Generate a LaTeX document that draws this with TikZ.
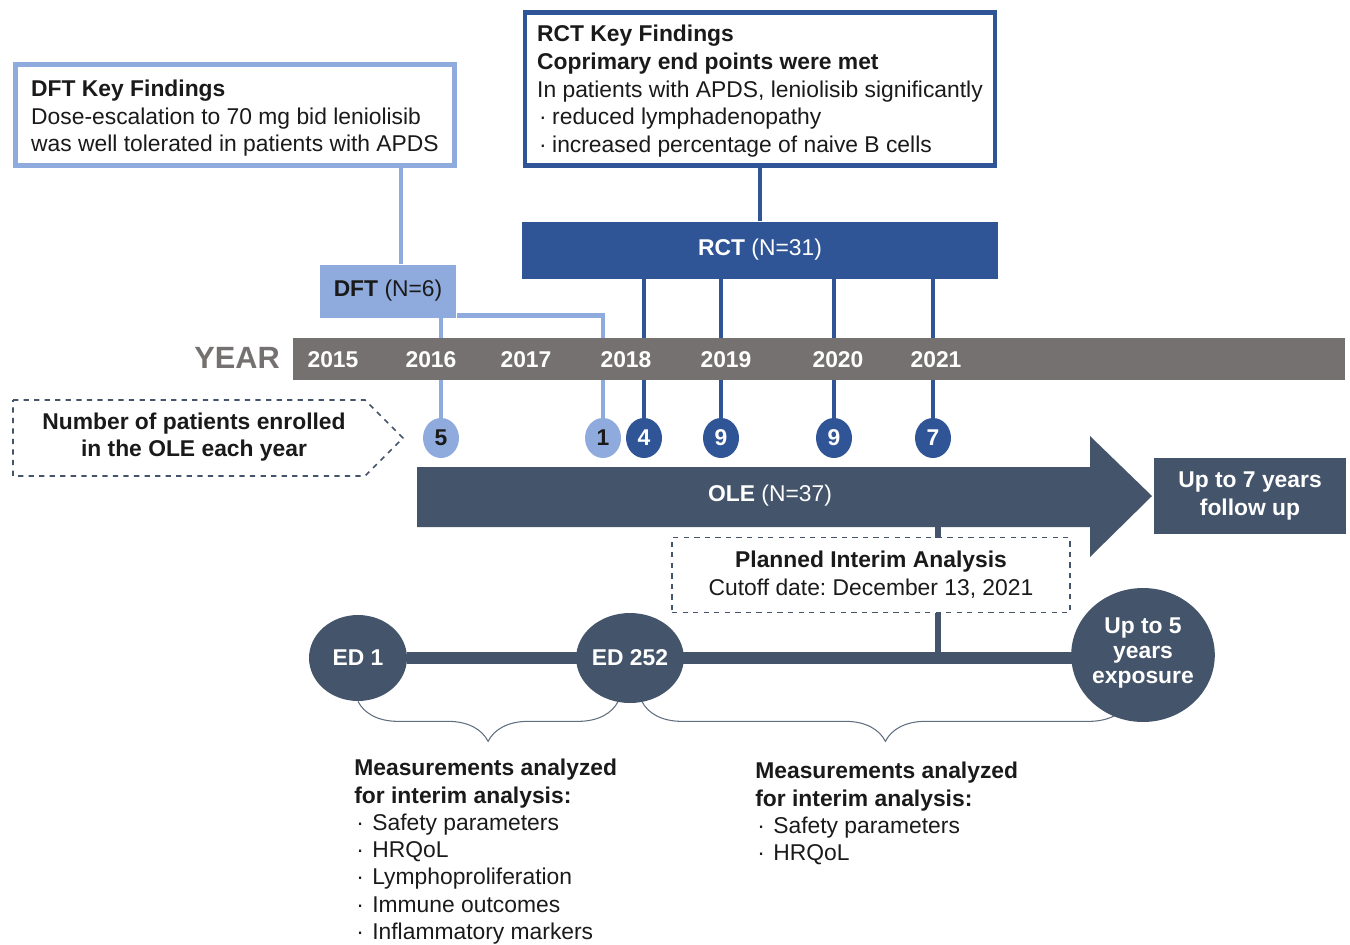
\documentclass[tikz,border=0pt]{standalone}
\usepackage{fontspec}
\setmainfont{Liberation Sans}
\usetikzlibrary{shapes.geometric, positioning, calc, backgrounds, decorations.pathreplacing}
\definecolor{dftblue}{HTML}{8FAADC}
\definecolor{rctblue}{HTML}{2F5597}
\definecolor{yeargray}{HTML}{767171}
\definecolor{oleslate}{HTML}{44546A}
\definecolor{ink}{HTML}{1A1A1A}
\newcommand{\bul}[1]{\makebox[#1][l]{\hspace{0.04cm}·}}
\frenchspacing
\tikzset{
    keybox/.style = {draw, line width=2.7pt, fill=white, align=left, inner sep=0pt, text=ink},
    studybox/.style = {rectangle, inner sep=0pt, align=center},
    yearlbl/.style = {text=white, font=\bfseries},
    enrolldot/.style = {ellipse, inner sep=0pt, minimum width=0.72cm, minimum height=0.8cm, font=\bfseries},
    eddot/.style = {ellipse, fill=oleslate, inner sep=0pt, text=white, font=\bfseries, align=center},
    link/.style = {line width=2.8pt},
    dashbox/.style = {draw=oleslate, dashed, line width=0.9pt, fill=white},
    brace/.style = {decorate, decoration={brace, amplitude=0.8cm, mirror}, draw=oleslate!85, line width=0.6pt}
}

\begin{document}
\fontsize{13}{15.8}\selectfont
\begin{tikzpicture}[x=0.02cm, y=-0.02cm]
    \useasboundingbox (0,0) rectangle (1350,944);

    % Key findings
    \node[keybox, draw=dftblue, minimum width=8.78cm, minimum height=2.02cm] (dftkey) at (235,115)
        {\rule{0pt}{13pt}\textbf{DFT Key Findings}\\Dose-escalation to 70 mg bid leniolisib\\was well tolerated in patients with APDS};
    \node[keybox, draw=rctblue, minimum width=9.4cm, minimum height=3.06cm] (rctkey) at (760,89)
        {\rule{0pt}{11.8pt}\textbf{RCT Key Findings}\\\textbf{Coprimary end points were met}\\In patients with APDS, leniolisib significantly\\\bul{0.3cm}reduced lymphadenopathy\\\bul{0.3cm}increased percentage of naive B cells};

    % Studies
    \node[studybox, fill=dftblue, text=ink, minimum width=2.74cm, minimum height=1.06cm] (dft) at (388,291) {\textbf{DFT} (N=6)};
    \node[studybox, fill=rctblue, text=white, minimum width=9.52cm, minimum height=1.14cm] (rct) at (760,250) {\textbf{RCT} (N=31)};

    % Year axis
    \node[fill=yeargray, minimum width=21.04cm, minimum height=0.84cm, inner sep=0pt] (yearbar) at (819,359) {};
    \node[text=yeargray, font=\fontsize{17.5}{20}\selectfont\bfseries] (yearlabel) at (237,358) {YEAR};
    \foreach \yr/\xx in {2015/333, 2016/431, 2017/526, 2018/626, 2019/726, 2020/838, 2021/936}
        \node[yearlbl] (y\yr) at (\xx,360) {\yr};

    % Enrolment per year
    \draw[dashbox] (13,400) -- (365,400) -- (403,438) -- (365,476) -- (13,476) -- cycle;
    \node[font=\bfseries, align=center, text=ink] (enrolled) at (194,437) {Number of patients enrolled\\in the OLE each year};
    \foreach \nm/\xx/\val in {n5/441/5, n1/603/1}
        \node[enrolldot, fill=dftblue, text=ink] (\nm) at (\xx,438) {\val};
    \foreach \nm/\xx/\val in {n4/644/4, n9a/721/9, n9b/834/9, n7/933/7}
        \node[enrolldot, fill=rctblue, text=white] (\nm) at (\xx,438) {\val};

    % OLE
    \fill[oleslate] (417,467) -- (1090,467) -- (1090,436) -- (1152,496) -- (1090,557) -- (1090,527) -- (417,527) -- cycle;
    \node[text=white] (ole) at (770,496) {\textbf{OLE} (N=37)};
    \coordinate (olefoot) at (938,527);
    \node[studybox, fill=oleslate, text=white, font=\bfseries, minimum width=3.86cm, minimum height=1.52cm] (followup) at (1250,496) {Up to 7 years\\follow up};
    \node[dashbox, minimum width=7.96cm, minimum height=1.5cm, align=center, text=ink] (interim) at (871,575)
        {\textbf{Planned Interim Analysis}\\Cutoff date: December 13, 2021};

    % Exposure days
    \node[eddot, minimum width=1.96cm, minimum height=1.72cm] (ed1) at (358,658) {ED 1};
    \node[eddot, minimum width=2cm, minimum height=1.8cm] (ed252) at (630,658) {ED 252};
    \node[eddot, minimum width=2.84cm, minimum height=2.68cm, font=\bfseries\fontsize{13}{14.2}\selectfont] (up5) at (1143,655) {Up to 5\\years\\exposure\rule[-5pt]{0pt}{0pt}};

    % Measurements
    \node[anchor=north west, align=left, inner sep=0pt, text=ink, font=\fontsize{13}{15.5}\selectfont] (meas1) at (354,759)
        {\textbf{Measurements analyzed}\\\textbf{for interim analysis:}\\\bul{0.36cm}Safety parameters\\\bul{0.36cm}HRQoL\\\bul{0.36cm}Lymphoproliferation\\\bul{0.36cm}Immune outcomes\\\bul{0.36cm}Inflammatory markers};
    \node[anchor=north west, align=left, inner sep=0pt, text=ink, font=\fontsize{13}{15.5}\selectfont] (meas2) at (755,762)
        {\textbf{Measurements analyzed}\\\textbf{for interim analysis:}\\\bul{0.36cm}Safety parameters\\\bul{0.36cm}HRQoL};

    % Connectors
    \begin{scope}[on background layer]
        \coordinate (dftjoin) at ([xshift=0.26cm]dft.north);
        \draw[link, dftblue] (dftjoin) -- (dftjoin |- dftkey.south);
        \draw[link, dftblue] (dft.south -| n5) -- (n5);
        \draw[link, dftblue] ([yshift=0.05cm]dft.south east) -| (n1);
        \draw[link, rctblue] (rctkey) -- (rct);
        \foreach \nm in {n4, n9a, n9b, n7}
            \draw[link, rctblue] (rct.south -| \nm) -- (\nm);
        \draw[oleslate, line width=3.4pt] (olefoot) -- (olefoot |- ed252);
        \draw[oleslate, line width=6.8pt] (ed1) -- (ed1 -| up5);
        \draw[brace] (ed1.south) -- (ed1.south -| ed252.255);
        \draw[brace] (ed252.285 |- ed1.south) -- (up5.258 |- ed1.south);
    \end{scope}
\end{tikzpicture}
\end{document}
